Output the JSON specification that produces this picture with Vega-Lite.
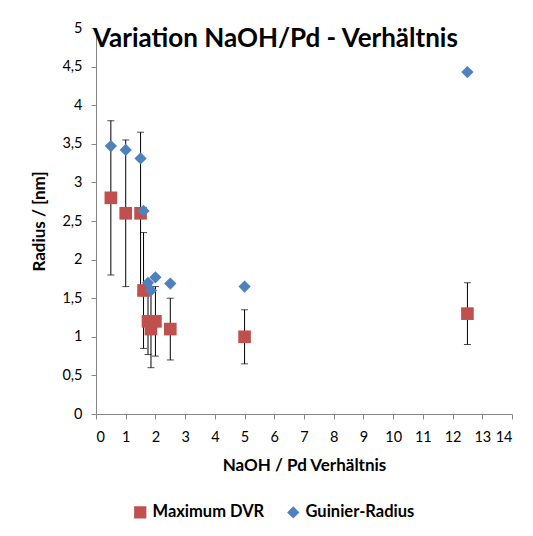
{
  "$schema": "https://vega.github.io/schema/vega-lite/v6.json",
  "autosize": "none",
  "width": 416,
  "height": 386,
  "padding": {"left": 96, "top": 28, "right": 21, "bottom": 122},
  "background": "white",
  "title": {
    "text": "Variation NaOH/Pd - Verhältnis",
    "anchor": "start",
    "frame": "group",
    "orient": "top",
    "baseline": "top",
    "offset": -32,
    "dx": -3,
    "font": "Lato",
    "fontSize": 26,
    "fontWeight": "bold",
    "color": "#000000"
  },
  "datasets": {
    "dvr": [
      {"x": 0.5, "series": "Maximum DVR", "r": 2.8, "lo": 1.8, "hi": 3.8},
      {"x": 1, "series": "Maximum DVR", "r": 2.6, "lo": 1.65, "hi": 3.55},
      {"x": 1.5, "series": "Maximum DVR", "r": 2.6, "lo": 1.55, "hi": 3.65},
      {"x": 1.6, "series": "Maximum DVR", "r": 1.6, "lo": 0.85, "hi": 2.35},
      {"x": 1.75, "series": "Maximum DVR", "r": 1.2, "lo": 0.77, "hi": 1.63},
      {"x": 1.85, "series": "Maximum DVR", "r": 1.1, "lo": 0.6, "hi": 1.6},
      {"x": 2, "series": "Maximum DVR", "r": 1.2, "lo": 0.75, "hi": 1.65},
      {"x": 2.5, "series": "Maximum DVR", "r": 1.1, "lo": 0.7, "hi": 1.5},
      {"x": 5, "series": "Maximum DVR", "r": 1.0, "lo": 0.65, "hi": 1.35},
      {"x": 12.5, "series": "Maximum DVR", "r": 1.3, "lo": 0.9, "hi": 1.7}
    ],
    "guinier": [
      {"x": 0.5, "series": "Guinier-Radius", "r": 3.47},
      {"x": 1, "series": "Guinier-Radius", "r": 3.42},
      {"x": 1.5, "series": "Guinier-Radius", "r": 3.31},
      {"x": 1.6, "series": "Guinier-Radius", "r": 2.63},
      {"x": 1.75, "series": "Guinier-Radius", "r": 1.7},
      {"x": 1.85, "series": "Guinier-Radius", "r": 1.6},
      {"x": 2, "series": "Guinier-Radius", "r": 1.77},
      {"x": 2.5, "series": "Guinier-Radius", "r": 1.69},
      {"x": 5, "series": "Guinier-Radius", "r": 1.65},
      {"x": 12.5, "series": "Guinier-Radius", "r": 4.43}
    ]
  },
  "config": {
    "view": {"stroke": null},
    "font": "Lato",
    "axis": {
      "grid": false,
      "domainColor": "#868686",
      "tickColor": "#868686",
      "tickSize": 5,
      "labelFont": "Lato",
      "labelFontSize": 14.5,
      "labelColor": "#000000",
      "titleFont": "Lato",
      "titleFontSize": 17,
      "titleFontWeight": "bold",
      "titleColor": "#000000"
    }
  },
  "layer": [
    {
      "data": {"name": "dvr"},
      "mark": {"type": "rule", "color": "#000000", "strokeWidth": 1},
      "encoding": {
        "x": {"field": "x", "type": "quantitative"},
        "y": {"field": "lo", "type": "quantitative"},
        "y2": {"field": "hi"}
      }
    },
    {
      "data": {"name": "dvr"},
      "mark": {"type": "tick", "orient": "horizontal", "color": "#000000", "size": 7, "thickness": 1},
      "encoding": {
        "x": {"field": "x", "type": "quantitative"},
        "y": {"field": "lo", "type": "quantitative"}
      }
    },
    {
      "data": {"name": "dvr"},
      "mark": {"type": "tick", "orient": "horizontal", "color": "#000000", "size": 7, "thickness": 1},
      "encoding": {
        "x": {"field": "x", "type": "quantitative"},
        "y": {"field": "hi", "type": "quantitative"}
      }
    },
    {
      "data": {"name": "dvr"},
      "mark": {"type": "point", "filled": true, "opacity": 1, "size": 160},
      "encoding": {
        "x": {"field": "x", "type": "quantitative"},
        "y": {"field": "r", "type": "quantitative"},
        "color": {"field": "series", "type": "nominal"},
        "shape": {"field": "series", "type": "nominal"}
      }
    },
    {
      "data": {"name": "guinier"},
      "mark": {"type": "point", "filled": true, "opacity": 1, "size": 150},
      "encoding": {
        "x": {"field": "x", "type": "quantitative"},
        "y": {"field": "r", "type": "quantitative"},
        "color": {"field": "series", "type": "nominal"},
        "shape": {"field": "series", "type": "nominal"}
      }
    }
  ],
  "encoding": {
    "x": {
      "type": "quantitative",
      "scale": {"domain": [0, 14], "nice": false, "zero": true},
      "axis": {"title": "NaOH / Pd Verhältnis", "values": [0,1,2,3,4,5,6,7,8,9,10,11,12,13,14], "labelPadding": 11, "titlePadding": 14}
    },
    "y": {
      "type": "quantitative",
      "scale": {"domain": [0, 5], "nice": false},
      "axis": {"title": "Radius / [nm]", "values": [0,0.5,1,1.5,2,2.5,3,3.5,4,4.5,5], "labelExpr": "replace(format(datum.value, '~g'), '.', ',')", "labelPadding": 9, "titlePadding": 13}
    },
    "color": {
      "type": "nominal",
      "scale": {"domain": ["Maximum DVR", "Guinier-Radius"], "range": ["#C0504D", "#4F81BD"]},
      "legend": {"title": null, "orient": "none", "legendX": 36, "legendY": 476, "direction": "horizontal", "labelFont": "Lato", "labelFontSize": 16.5, "labelFontWeight": "bold", "labelColor": "#000000", "symbolSize": 150, "columnPadding": 20, "labelOffset": 4}
    },
    "shape": {
      "type": "nominal",
      "scale": {"domain": ["Maximum DVR", "Guinier-Radius"], "range": ["square", "diamond"]}
    }
  }
}
